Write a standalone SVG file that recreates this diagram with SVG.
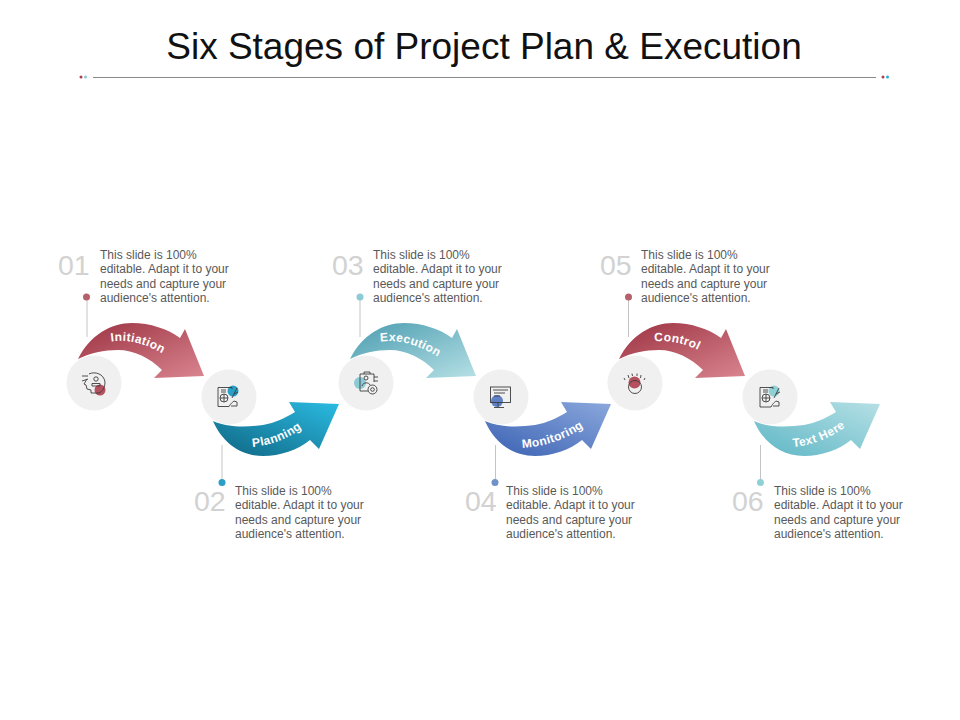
<svg xmlns="http://www.w3.org/2000/svg" xmlns:xlink="http://www.w3.org/1999/xlink" width="960" height="720" viewBox="0 0 960 720">
<style>
.t{font:12px "Liberation Sans",Arial,sans-serif;fill:#595959}
.n{font:28.500px "Liberation Sans",Arial,sans-serif;fill:#d2d2d2}
.a{font:bold 12px "Liberation Sans",Arial,sans-serif;fill:#fff;letter-spacing:.4px;text-anchor:middle}
.c{fill:#f0f0f0}
.l{stroke:#c4c4c4;stroke-width:1;fill:none}
.i{fill:none;stroke:#3c3c3c;stroke-width:.9}
</style>
<defs>
<linearGradient id="g1" x1="0" y1="0" x2="1" y2="1"><stop offset="0" stop-color="#9c3242"/><stop offset="1" stop-color="#d9858f"/></linearGradient>
<linearGradient id="g2" x1="0" y1="1" x2="1" y2="0"><stop offset="0" stop-color="#0f6582"/><stop offset="1" stop-color="#2bbbe2"/></linearGradient>
<linearGradient id="g3" x1="0" y1="0" x2="1" y2="1"><stop offset="0" stop-color="#4a9cb0"/><stop offset="1" stop-color="#b6e0e5"/></linearGradient>
<linearGradient id="g4" x1="0" y1="1" x2="1" y2="0"><stop offset="0" stop-color="#3a61b2"/><stop offset="1" stop-color="#8ba8dd"/></linearGradient>
<linearGradient id="g6" x1="0" y1="1" x2="1" y2="0"><stop offset="0" stop-color="#5db6c5"/><stop offset="1" stop-color="#b6e0e5"/></linearGradient>
<path id="up" d="M78,359C90,335 111,323 132,323C150,323 168,329 180,338L185,329L204,376L154,378L162,370C150,358 134,350 118,350C104,350 90,353 78,359Z"/>
<path id="dn" d="M213,421C228,428 248,427 263,425C275,423 285,418 295,412L289,402L339,404L319,449L310,440C298,450 280,456 263,456C240,456 222,442 213,421Z"/>
<path id="p1" d="M100,344Q135,333 172,360"/>
<path id="p2" d="M240,447Q280,449 312,420"/>
<path id="p3" d="M370,344Q405,333 447,363"/>
<path id="p4" d="M510,448Q555,450 594,420"/>
<path id="p5" d="M639,344Q676,334 712,358"/>
<path id="p6" d="M781,447Q821,449 855,419"/>
</defs>
<rect width="960" height="720" fill="#fff"/>
<text x="484" y="59" text-anchor="middle" style="font:37px 'Liberation Sans',Arial,sans-serif;fill:#111">Six Stages of Project Plan &amp; Execution</text>
<g id="rule">
<line x1="93" y1="77.5" x2="876" y2="77.5" stroke="#8a8a8a" stroke-width="1"/>
<circle cx="81" cy="77" r="1.500" fill="#a8404e"/><circle cx="85.500" cy="77" r="1.500" fill="#8ccad5"/>
<circle cx="883" cy="77" r="1.500" fill="#a8404e"/><circle cx="887.500" cy="77" r="1.500" fill="#2bb0d8"/>
</g>
<g id="connectors">
<line class="l" x1="87" y1="300" x2="87" y2="337"/>
<line class="l" x1="222" y1="445" x2="222" y2="480"/>
<line class="l" x1="360" y1="300" x2="360" y2="337"/>
<line class="l" x1="495.500" y1="445" x2="495.500" y2="480"/>
<line class="l" x1="628.500" y1="300" x2="628.500" y2="337"/>
<line class="l" x1="760.500" y1="445" x2="760.500" y2="480"/>
</g>
<g id="stage1">
<use xlink:href="#up" fill="url(#g1)"/>
<circle class="c" cx="94" cy="383" r="27.500"/>
<circle cx="100" cy="390" r="5.500" fill="#b5505e"/>
<path class="i" d="M89,374C95,371 104,374 105,382C105,388 102,392 99,393L91,393L91,390L87,389L86,385L84,384L87,379M88,376L82,376M88,379L82,381"/>
<circle class="i" cx="96" cy="379" r="2.200"/><path class="i" d="M92,386L92,383.500L100,383.500L100,386Z"/>
<text class="a"><textPath xlink:href="#p1" startOffset="50%">Initiation</textPath></text>
<text class="n" x="58" y="275">01</text>
<text class="t"><tspan x="100" y="259">This slide is 100%</tspan><tspan x="100" y="273">editable. Adapt it to your</tspan><tspan x="100" y="288">needs and capture your</tspan><tspan x="100" y="302">audience's attention.</tspan></text>
<circle cx="86.500" cy="297" r="3.500" fill="#b5606b"/>
</g>
<g id="stage2">
<use xlink:href="#dn" fill="url(#g2)"/>
<circle class="c" cx="229" cy="397" r="27.500"/>
<circle cx="233" cy="391" r="5.500" fill="#2a9fc5"/>
<path class="i" d="M218,387.500H232V389M218,387.500V406.500H229M221,390H226M221,392H226M232,398L237,388M234,394L238,392M229,406.500C231,403 232,403 234,401L237,402V406H231"/>
<circle class="i" cx="224" cy="398" r="4"/><path class="i" d="M220,398H228M224,394V402"/>
<text class="a"><textPath xlink:href="#p2" startOffset="50%">Planning</textPath></text>
<text class="n" x="194" y="511">02</text>
<text class="t"><tspan x="235" y="495">This slide is 100%</tspan><tspan x="235" y="509">editable. Adapt it to your</tspan><tspan x="235" y="524">needs and capture your</tspan><tspan x="235" y="538">audience's attention.</tspan></text>
<circle cx="222" cy="482.500" r="3.500" fill="#2a9fc5"/>
</g>
<g id="stage3">
<use xlink:href="#up" x="272" fill="url(#g3)"/>
<circle class="c" cx="366" cy="383" r="27.500"/>
<circle cx="360" cy="383" r="6" fill="#8ccad5"/>
<path class="i" d="M360,374H374V382M360,374V391H368M364,374V372H370V374M374,377H378M374,381H378"/>
<circle class="i" cx="366" cy="378" r="2"/><path class="i" d="M362,386C363,382 369,382 370,385"/>
<circle class="i" cx="372.500" cy="389.500" r="4.500"/><circle class="i" cx="372.500" cy="389.500" r="1.800"/>
<text class="a"><textPath xlink:href="#p3" startOffset="50%">Execution</textPath></text>
<text class="n" x="332" y="275">03</text>
<text class="t"><tspan x="373" y="259">This slide is 100%</tspan><tspan x="373" y="273">editable. Adapt it to your</tspan><tspan x="373" y="288">needs and capture your</tspan><tspan x="373" y="302">audience's attention.</tspan></text>
<circle cx="360" cy="297" r="3.500" fill="#8ccad5"/>
</g>
<g id="stage4">
<use xlink:href="#dn" x="272" fill="url(#g4)"/>
<circle class="c" cx="501" cy="397" r="27.500"/>
<circle cx="497" cy="401" r="6" fill="#5f80c4"/>
<rect class="i" x="490.500" y="387" width="20" height="15.500"/>
<path class="i" d="M493,390H508M494,393H505M494,396H500M498,403V407M494,407.500H504"/>
<text class="a"><textPath xlink:href="#p4" startOffset="50%">Monitoring</textPath></text>
<text class="n" x="465" y="511">04</text>
<text class="t"><tspan x="506" y="495">This slide is 100%</tspan><tspan x="506" y="509">editable. Adapt it to your</tspan><tspan x="506" y="524">needs and capture your</tspan><tspan x="506" y="538">audience's attention.</tspan></text>
<circle cx="495" cy="482.500" r="3.500" fill="#6f93c8"/>
</g>
<g id="stage5">
<use xlink:href="#up" x="541" fill="url(#g1)"/>
<circle class="c" cx="635" cy="383" r="27.500"/>
<circle cx="634.500" cy="382.500" r="6" fill="#b5505e"/>
<circle class="i" cx="635" cy="387" r="6.500"/>
<path class="i" d="M624,378L625,380M628,375L629,378M632,373.500L632.500,376M637,373.500L637,376M641,375L640.500,378M645,378L644,380"/>
<text class="a"><textPath xlink:href="#p5" startOffset="50%">Control</textPath></text>
<text class="n" x="600" y="275">05</text>
<text class="t"><tspan x="641" y="259">This slide is 100%</tspan><tspan x="641" y="273">editable. Adapt it to your</tspan><tspan x="641" y="288">needs and capture your</tspan><tspan x="641" y="302">audience's attention.</tspan></text>
<circle cx="628.500" cy="297" r="3.500" fill="#b5606b"/>
</g>
<g id="stage6">
<use xlink:href="#dn" x="541" fill="url(#g6)"/>
<circle class="c" cx="770" cy="397" r="27.500"/>
<circle cx="774" cy="391" r="5.500" fill="#8fd0d5"/>
<path class="i" d="M760,387.500H773V389M760,387.500V407H771M763,390H768M763,392H768M774,398L779,388M776,394L780,392M771,407C773,403 774,403 776,401L779,402V406H773"/>
<circle class="i" cx="766" cy="398" r="4"/><path class="i" d="M762,398H770M766,394V402"/>
<text class="a"><textPath xlink:href="#p6" startOffset="50%">Text Here</textPath></text>
<text class="n" x="732" y="511">06</text>
<text class="t"><tspan x="774" y="495">This slide is 100%</tspan><tspan x="774" y="509">editable. Adapt it to your</tspan><tspan x="774" y="524">needs and capture your</tspan><tspan x="774" y="538">audience's attention.</tspan></text>
<circle cx="760.500" cy="482.500" r="3.500" fill="#8fd0d5"/>
</g>
</svg>
